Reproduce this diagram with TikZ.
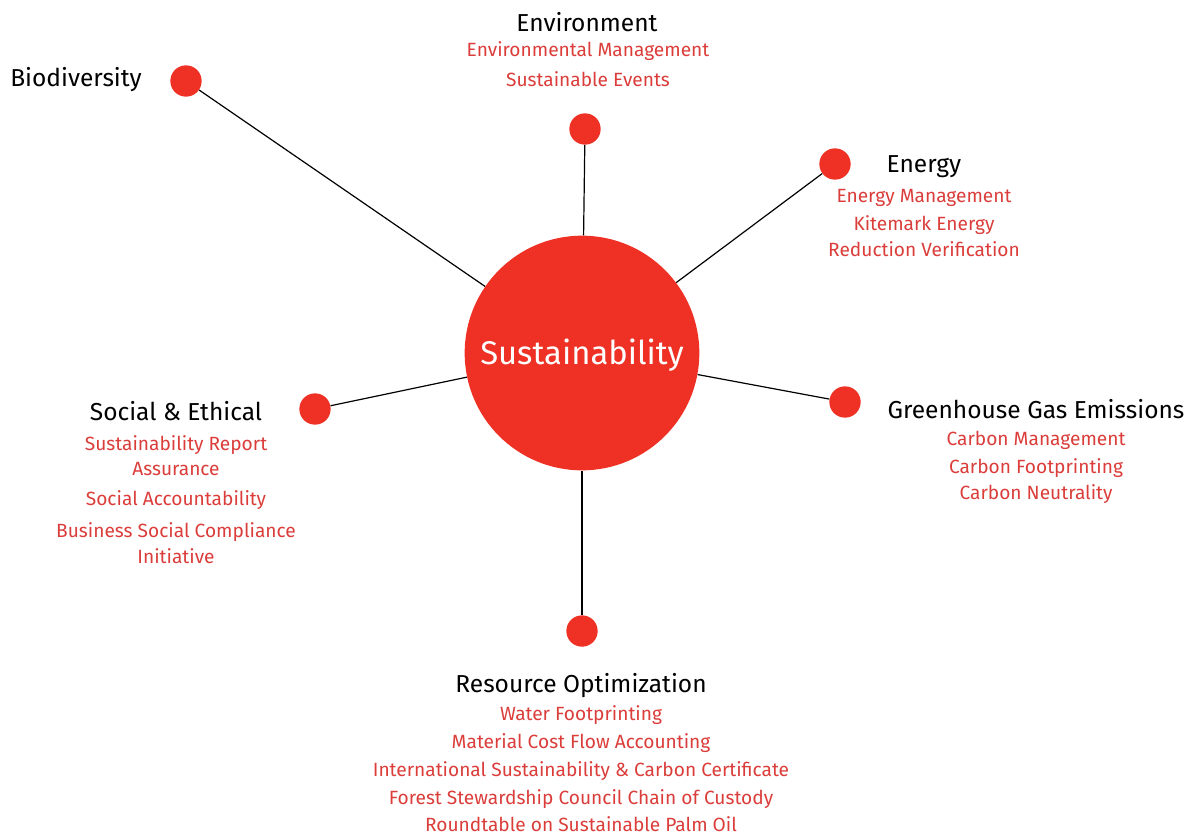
\documentclass[tikz,border=0pt]{standalone}
\usepackage{fontspec}
\setmainfont{Fira Sans}
\definecolor{dotred}{HTML}{EE3124}
\definecolor{txtred}{HTML}{DA3D3A}
\tikzset{
  dot/.style={circle,fill=dotred,inner sep=0pt,minimum size=23.5pt},
  head/.style={inner sep=0pt,font=\fontsize{18.4}{20}\selectfont,text=black},
  item/.style={inner sep=0pt,font=\fontsize{14.35}{16}\selectfont,text=txtred},
  link/.style={draw=black,line width=0.9pt}
}
\begin{document}
\begin{tikzpicture}[x=0.75pt,y=-0.75pt]
\useasboundingbox (0,0) rectangle (1195,836);
\node[circle,fill=dotred,inner sep=0pt,minimum size=176pt] (c) at (582,353) {};
\node[text=white,font=\fontsize{24.6}{28}\selectfont,inner sep=0pt] (ct) at (582,355) {Sustainability};
\node[dot] (bio) at (186,81) {};
\node[dot] (env) at (585,129) {};
\node[dot] (ene) at (835,164) {};
\node[dot] (ghg) at (845,402) {};
\node[dot] (res) at (582,631) {};
\node[dot] (soc) at (315,409) {};
\draw[link] (bio) -- (c);
\draw[link] (env) -- (c);
\draw[link] (ene) -- (c);
\draw[link] (ghg) -- (c);
\draw[link] (res) -- (c);
\draw[link] (soc) -- (c);
% labels
\node[head] (tbio) at (76,80) {Biodiversity};
\node[head] (tenv) at (587,22) {Environment};
\node[item] (e1) at (588,51) {Environmental Management};
\node[item] (e2) at (588,79) {Sustainable Events};
\node[head] (tene) at (924,167) {Energy};
\node[item] (n1) at (924,198) {Energy Management};
\node[item] (n2) at (924,225) {Kitemark Energy};
\node[item] (n3) at (924,249) {Reduction Verification};
\node[head] (tghg) at (1036,409) {Greenhouse Gas Emissions};
\node[item] (g1) at (1036,440) {Carbon Management};
\node[item] (g2) at (1036,468) {Carbon Footprinting};
\node[item] (g3) at (1036,494) {Carbon Neutrality};
\node[head] (tsoc) at (176,411) {Social \& Ethical};
\node[item] (s1) at (176,445) {Sustainability Report};
\node[item] (s2) at (176,469) {Assurance};
\node[item] (s3) at (176,500) {Social Accountability};
\node[item] (s4) at (176,532) {Business Social Compliance};
\node[item] (s5) at (176,556) {Initiative};
\node[head] (tres) at (581,686) {Resource Optimization};
\node[item] (r1) at (581,715) {Water Footprinting};
\node[item] (r2) at (581,743) {Material Cost Flow Accounting};
\node[item] (r3) at (581,771) {International Sustainability \& Carbon Certificate};
\node[item] (r4) at (581,799) {Forest Stewardship Council Chain of Custody};
\node[item] (r5) at (581,824) {Roundtable on Sustainable Palm Oil};
\end{tikzpicture}
\end{document}
